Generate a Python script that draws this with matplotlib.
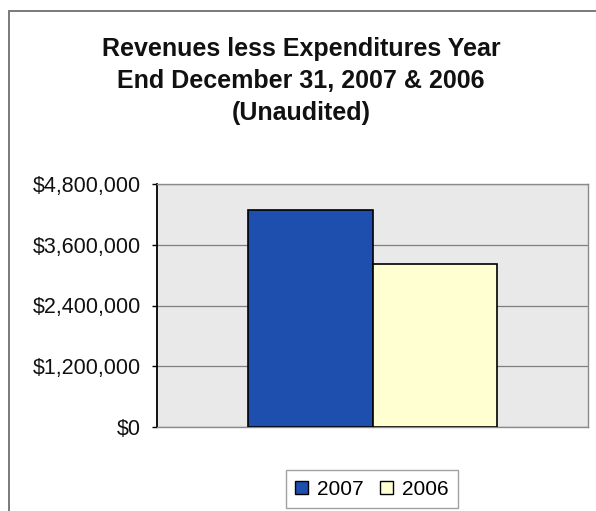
import matplotlib
matplotlib.use("Agg")
import matplotlib.pyplot as plt
from matplotlib.patches import Patch, Rectangle
from matplotlib.ticker import FuncFormatter

years = ["2007", "2006"]
net_revenue = [4290000, 3220000]
bar_colors = ["#1f4fae", "#ffffd2"]
y_ticks = [0, 1200000, 2400000, 3600000, 4800000]
title = "Revenues less Expenditures Year\nEnd December 31, 2007 & 2006\n(Unaudited)"

plt.rcParams["font.family"] = ["Liberation Sans", "DejaVu Sans"]

fig = plt.figure(figsize=(5.96, 5.11), dpi=100)
fig.patch.set_facecolor("white")

# chart frame (runs off the right and bottom edges)
fig.patches.append(Rectangle((9 / 596, -0.05), 1.0, 1 - 11 / 511 + 0.05,
                             transform=fig.transFigure, fill=False,
                             edgecolor="#7a7a7a", linewidth=1.4))

ax = fig.add_axes([157 / 596, 1 - 427 / 511, 431 / 596, 243 / 511])
ax.set_facecolor("#e9e9e9")

width = 0.288
offsets = [-width / 2, width / 2]
for off, val, col in zip(offsets, net_revenue, bar_colors):
    ax.bar(off, val, width=width, color=col, edgecolor="black",
           linewidth=1.2, zorder=3)

ax.set_xlim(-0.5, 0.5)
ax.set_ylim(0, 4800000)
ax.set_yticks(y_ticks)
ax.yaxis.set_major_formatter(FuncFormatter(lambda v, p: "${:,.0f}".format(v)))
ax.set_xticks([])
ax.grid(axis="y", color="#7f7f7f", linewidth=0.9, zorder=1)
ax.tick_params(axis="y", labelsize=15.5, length=3.6, width=1, pad=8,
               labelcolor="#111111")

for side in ["top", "right", "bottom"]:
    ax.spines[side].set_color("#8a8a8a")
    ax.spines[side].set_linewidth(1)
ax.spines["left"].set_color("black")
ax.spines["left"].set_linewidth(1.3)

fig.text(0.505, 1 - 81 / 511, title, ha="center", va="center",
         fontsize=18, fontweight="bold", linespacing=1.42, color="#111111")

handles = [Patch(facecolor=c, edgecolor="black", linewidth=1, label=y)
           for c, y in zip(bar_colors, years)]
leg = fig.legend(handles=handles, loc="center", ncol=2,
                 bbox_to_anchor=(372 / 596, 1 - 489 / 511),
                 fontsize=15, frameon=True, fancybox=False,
                 handlelength=0.6, handleheight=0.6, handletextpad=0.45,
                 columnspacing=0.8, borderpad=0.45)
leg.get_frame().set_edgecolor("#8a8a8a")
leg.get_frame().set_linewidth(1)

fig.savefig("out.png", dpi=100)
